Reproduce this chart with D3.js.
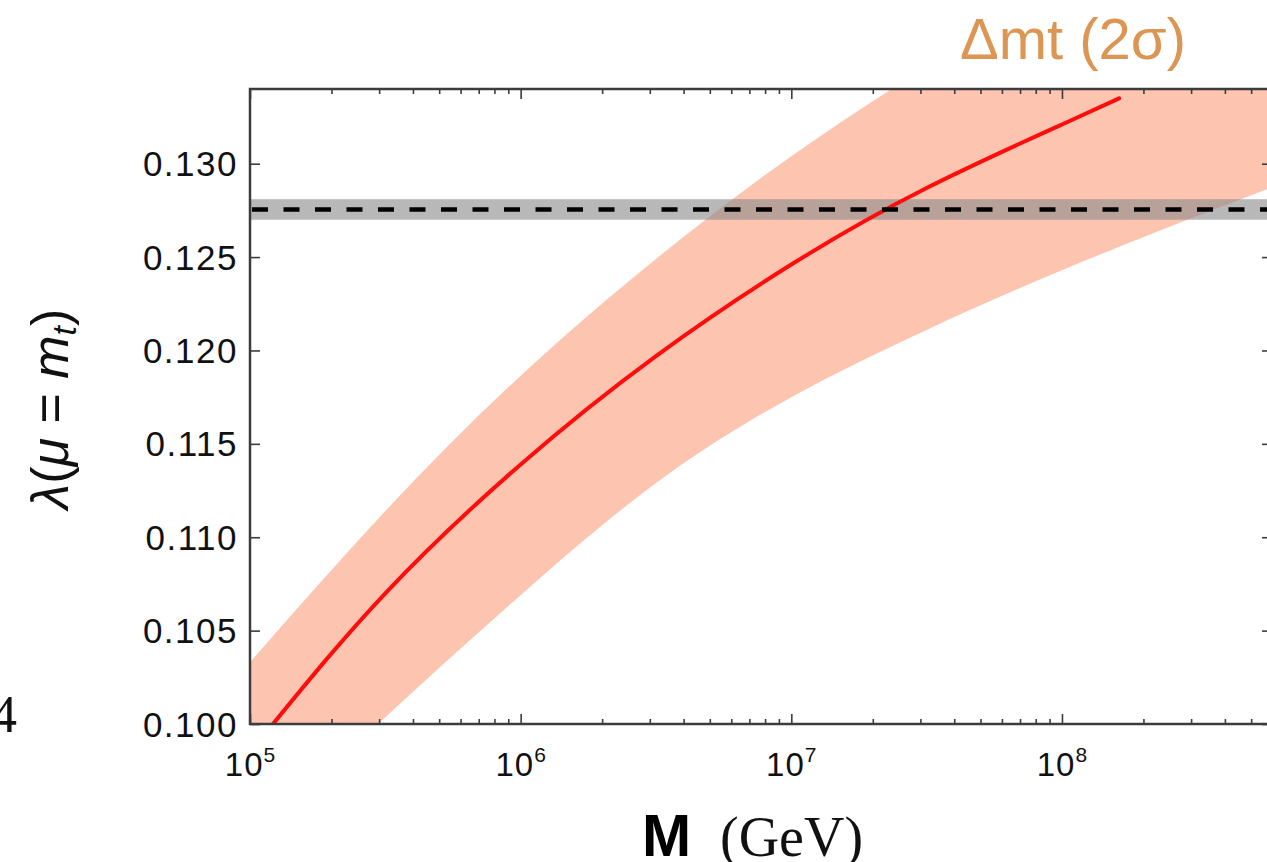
<!DOCTYPE html>
<html>
<head>
<meta charset="utf-8">
<script src="https://cdn.jsdelivr.net/npm/d3@7"></script>
<style>
  html, body { margin: 0; padding: 0; background: #fff; }
  svg { display: block; }
</style>
</head>
<body>
<svg id="chart" width="1267" height="862"></svg>
<script>
// ---------------- data ----------------
// central curve: cutoff scale M (GeV) vs lambda(mu = m_t)
const curveM      = [1.216e5, 3.162e5, 1.0e6, 3.162e6, 1.0e7, 3.162e7, 1.0e8, 1.626e8];
const curveLambda = [0.1000, 0.1070, 0.1139, 0.1197, 0.1246, 0.1287, 0.1321, 0.1335];

// 2 sigma band (Delta m_t): upper and lower edges
const bandUpperM      = [1.0e5, 3.162e5, 1.0e6, 3.162e6, 1.0e7, 3.162e7, 1.0e8, 5.87e8];
const bandUpperLambda = [0.1033, 0.1114, 0.11865, 0.1249, 0.1304, 0.1352, 0.1394, 0.1445];
const bandLowerM      = [1.0e5, 2.972e5, 1.0e6, 3.162e6, 1.0e7, 3.162e7, 1.0e8, 3.162e8, 5.87e8];
const bandLowerLambda = [0.0935, 0.1000, 0.1069, 0.1129, 0.1175, 0.1211, 0.1243, 0.1272, 0.1287];

// measured lambda: central value and band
const measuredLambda = [0.12755];
const measuredBand   = [0.1270, 0.1281];

// axes
const xDomain = [1e5, 5.87e8];
const yDomain = [0.100, 0.134];
const xTickValues = [1e5, 1e6, 1e7, 1e8];
const xTickExponents = ["5", "6", "7", "8"];
const yTickValues = [0.100, 0.105, 0.110, 0.115, 0.120, 0.125, 0.130];
const yTickLabels = ["0.100", "0.105", "0.110", "0.115", "0.120", "0.125", "0.130"];

// ---------------- layout ----------------
const L = 250, R = 1270, T = 89, B = 724;
const svg = d3.select("#chart");

const x = d3.scaleLog().domain(xDomain).range([L, R]);
const y = d3.scaleLinear().domain(yDomain).range([B, T]);

svg.append("defs").append("clipPath").attr("id", "plotclip")
  .append("rect").attr("x", L).attr("y", T).attr("width", R - L).attr("height", B - T);

const plot = svg.append("g").attr("clip-path", "url(#plotclip)");

const lineGen = d3.line().curve(d3.curveNatural);

// band polygon: upper edge left->right, lower edge right->left
const upperPts = bandUpperM.map((m, i) => [x(m), y(bandUpperLambda[i])]);
const lowerPts = bandLowerM.map((m, i) => [x(m), y(bandLowerLambda[i])]).reverse();
const bandPath = lineGen(upperPts) + "L" + lineGen(lowerPts).slice(1) + "Z";
plot.append("path").attr("d", bandPath).attr("fill", "#fdc5b0");

// measured gray band
plot.append("rect")
  .attr("x", L).attr("width", R - L)
  .attr("y", y(measuredBand[1]))
  .attr("height", y(measuredBand[0]) - y(measuredBand[1]))
  .attr("fill", "#888").attr("opacity", 0.6);

// central red curve
const curvePts = curveM.map((m, i) => [x(m), y(curveLambda[i])]);
plot.append("path").attr("d", lineGen(curvePts))
  .attr("fill", "none").attr("stroke", "#ff0d0d").attr("stroke-width", 4)
  .attr("stroke-linecap", "round");

// dashed measured line
plot.selectAll(".meas").data(measuredLambda).enter().append("line")
  .attr("x1", L + 2).attr("x2", R)
  .attr("y1", d => y(d)).attr("y2", d => y(d))
  .attr("stroke", "#000").attr("stroke-width", 4.5)
  .attr("stroke-dasharray", "16,15.5");

// ---------------- axes ----------------
const axisColor = "#3c3c3c";
svg.append("g").attr("transform", `translate(0,${B})`)
  .call(d3.axisBottom(x).tickValues(xTickValues).tickSize(-10).tickFormat(""));
svg.append("g").attr("transform", `translate(0,${T})`)
  .call(d3.axisTop(x).tickValues(xTickValues).tickSize(-10).tickFormat(""));
// minor ticks
const minorVals = [];
for (let e = 5; e <= 8; e++) for (let k = 2; k <= 9; k++) {
  const v = k * Math.pow(10, e);
  if (v < xDomain[1]) minorVals.push(v);
}
svg.append("g").attr("transform", `translate(0,${B})`)
  .call(d3.axisBottom(x).tickValues(minorVals).tickSize(-5).tickFormat(""));
svg.append("g").attr("transform", `translate(0,${T})`)
  .call(d3.axisTop(x).tickValues(minorVals).tickSize(-5).tickFormat(""));

svg.append("g").attr("transform", `translate(${L},0)`)
  .call(d3.axisLeft(y).tickValues(yTickValues).tickSize(-10).tickFormat(""));
svg.append("g").attr("transform", `translate(${R},0)`)
  .call(d3.axisRight(y).tickValues(yTickValues).tickSize(-8).tickFormat(""));

svg.selectAll(".domain").remove();
svg.selectAll(".tick line").attr("stroke", axisColor).attr("stroke-width", 1.6);

// frame
svg.append("rect").attr("x", L).attr("y", T).attr("width", R - L).attr("height", B - T)
  .attr("fill", "none").attr("stroke", axisColor).attr("stroke-width", 2.5);

// y tick labels
svg.append("g").selectAll("text").data(yTickValues).enter().append("text")
  .attr("x", L - 12).attr("y", d => y(d))
  .attr("dy", "0.36em")
  .attr("text-anchor", "end")
  .attr("font-family", "Liberation Sans, Arial, sans-serif")
  .attr("font-size", 35).attr("letter-spacing", 1.5)
  .attr("fill", "#111")
  .text((d, i) => yTickLabels[i]);

// x tick labels
const xl = svg.append("g").selectAll("text").data(xTickValues).enter().append("text")
  .attr("x", d => x(d)).attr("y", 776)
  .attr("text-anchor", "middle")
  .attr("font-family", "Liberation Sans, Arial, sans-serif")
  .attr("fill", "#111");
xl.append("tspan").attr("font-size", 33).attr("letter-spacing", 1).text("10");
xl.append("tspan").attr("font-size", 21).attr("dy", -14).text((d, i) => xTickExponents[i]);

// y axis title (rotated)
const yt = svg.append("text")
  .attr("transform", "translate(68,409) rotate(-90)")
  .attr("text-anchor", "middle")
  .attr("font-family", "Liberation Sans, Arial, sans-serif")
  .attr("font-size", 52).attr("fill", "#111");
yt.append("tspan").attr("font-style", "italic").text("λ");
yt.append("tspan").text("(");
yt.append("tspan").attr("font-style", "italic").text("μ");
yt.append("tspan").text(" = ");
yt.append("tspan").attr("font-style", "italic").text("m");
yt.append("tspan").attr("font-style", "italic").attr("font-size", 34).attr("dy", 8).text("t");
yt.append("tspan").attr("dy", -8).text(")");

// x axis title
svg.append("text").attr("x", 642).attr("y", 856)
  .attr("font-family", "Liberation Sans, Arial, sans-serif")
  .attr("font-weight", "bold").attr("font-size", 59).attr("fill", "#000")
  .text("M");
svg.append("text").attr("x", 720).attr("y", 856)
  .attr("font-family", "Liberation Serif, Times New Roman, serif")
  .attr("font-size", 56).attr("fill", "#111")
  .text("(GeV)");

// stray "4" at left edge
svg.append("text").attr("x", 17).attr("y", 732)
  .attr("text-anchor", "end")
  .attr("font-family", "Liberation Serif, Times New Roman, serif")
  .attr("font-size", 52).attr("fill", "#111")
  .text("4");

// annotation title
svg.append("text").attr("x", 960).attr("y", 59)
  .attr("font-family", "Liberation Sans, Arial, sans-serif")
  .attr("font-size", 58).attr("fill", "#dc9552")
  .text("Δmt (2σ)");
</script>
</body>
</html>
